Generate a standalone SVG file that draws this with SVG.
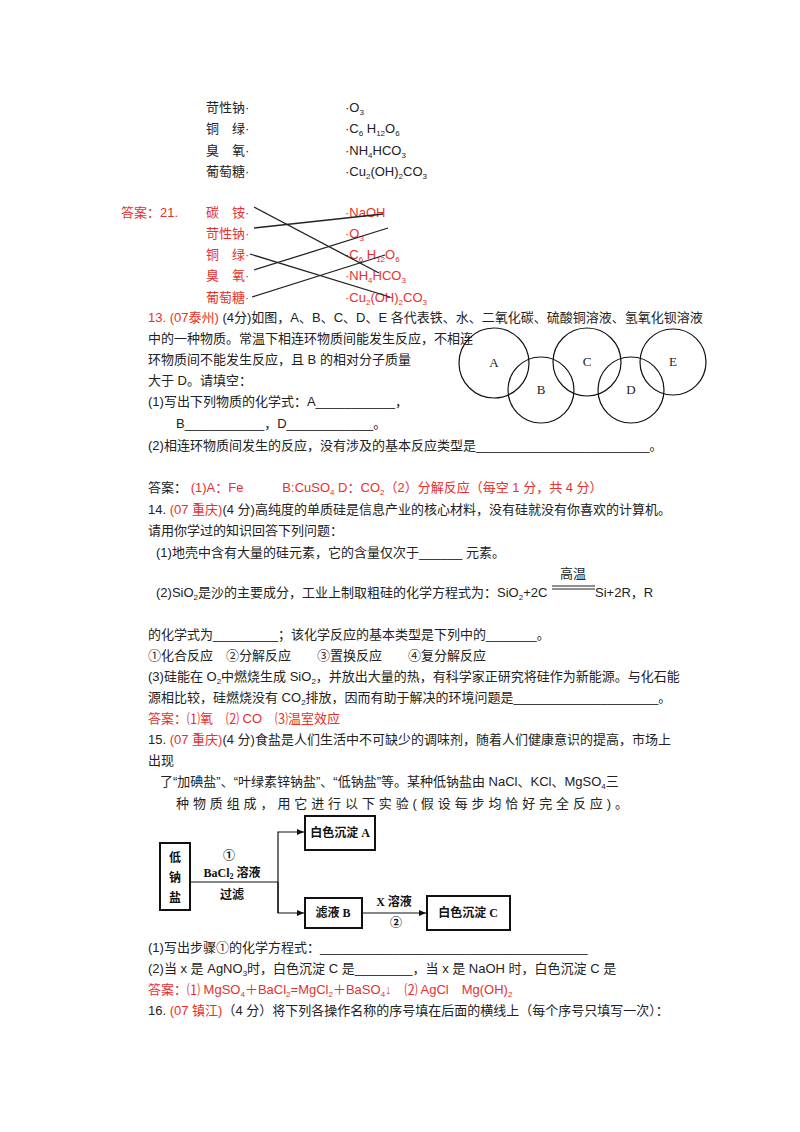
<svg xmlns="http://www.w3.org/2000/svg" width="800" height="1132" viewBox="0 0 800 1132">
<style>
text{font-family:"Liberation Sans","Noto Sans CJK SC",sans-serif;font-size:13px;fill:#222}
.r{fill:#e8302c}
.s{font-family:"Liberation Serif","Noto Sans CJK SC",serif;font-size:12px;fill:#111;font-weight:bold}
.ln{stroke:#222;stroke-width:1.3;fill:none}
.c{stroke:#111;stroke-width:1.2;fill:none}
.b{stroke:#111;stroke-width:2;fill:#fff}
</style>
<defs><marker id="ar" markerWidth="8" markerHeight="8" refX="7" refY="4" orient="auto" markerUnits="userSpaceOnUse"><path d="M0,1 L7,4 L0,7z" fill="#111"/></marker></defs>
<rect width="800" height="1132" fill="#fff"/>
<g id="q12">
<text x="206" y="112">苛性钠·</text><text x="345" y="112">·O<tspan font-size="8" dy="3">3</tspan></text>
<text x="206" y="133">铜　绿·</text><text x="345" y="133">·C<tspan font-size="8" dy="3">6</tspan><tspan dy="-3"> H</tspan><tspan font-size="8" dy="3">12</tspan><tspan dy="-3">O</tspan><tspan font-size="8" dy="3">6</tspan></text>
<text x="206" y="155">臭　氧·</text><text x="345" y="155">·NH<tspan font-size="8" dy="3">4</tspan><tspan dy="-3">HCO</tspan><tspan font-size="8" dy="3">3</tspan></text>
<text x="206" y="176">葡萄糖·</text><text x="345" y="176">·Cu<tspan font-size="8" dy="3">2</tspan><tspan dy="-3">(OH)</tspan><tspan font-size="8" dy="3">2</tspan><tspan dy="-3">CO</tspan><tspan font-size="8" dy="3">3</tspan></text>
<text class="r" x="121" y="217">答案：21.</text>
<text class="r" x="206" y="217">碳　铵·</text><text class="r" x="345" y="217">·NaOH</text>
<text class="r" x="206" y="238">苛性钠·</text><text class="r" x="345" y="238">·O<tspan font-size="8" dy="3">3</tspan></text>
<text class="r" x="206" y="259">铜　绿·</text><text class="r" x="345" y="259">·C<tspan font-size="8" dy="3">6</tspan><tspan dy="-3"> H</tspan><tspan font-size="8" dy="3">12</tspan><tspan dy="-3">O</tspan><tspan font-size="8" dy="3">6</tspan></text>
<text class="r" x="206" y="280">臭　氧·</text><text class="r" x="345" y="280">·NH<tspan font-size="8" dy="3">4</tspan><tspan dy="-3">HCO</tspan><tspan font-size="8" dy="3">3</tspan></text>
<text class="r" x="206" y="302">葡萄糖·</text><text class="r" x="345" y="302">·Cu<tspan font-size="8" dy="3">2</tspan><tspan dy="-3">(OH)</tspan><tspan font-size="8" dy="3">2</tspan><tspan dy="-3">CO</tspan><tspan font-size="8" dy="3">3</tspan></text>
</g>
<g id="connectors">
<line class="ln" x1="254" y1="207" x2="379" y2="273"/>
<line class="ln" x1="254" y1="228" x2="383" y2="214"/>
<line class="ln" x1="250" y1="254" x2="390" y2="297"/>
<line class="ln" x1="254" y1="270" x2="388" y2="228"/>
<line class="ln" x1="252" y1="297" x2="385" y2="255"/>
<polyline class="c" points="190,882 278,882"/>
<polyline class="c" points="278,913 278,832 304,832" marker-end="url(#ar)"/>
<polyline class="c" points="278,882 278,913 304,913" marker-end="url(#ar)"/>
<line class="c" x1="362" y1="913" x2="426" y2="913" marker-end="url(#ar)"/>
<line x1="552" y1="586" x2="595" y2="586" stroke="#222"/>
<line x1="552" y1="589" x2="595" y2="589" stroke="#222"/>
</g>
<g id="circles" fill="none" stroke="#111" stroke-width="1.2">
<circle cx="494" cy="363" r="35"/>
<circle cx="541" cy="390" r="33"/>
<circle cx="587" cy="362" r="34"/>
<circle cx="631" cy="390" r="33"/>
<circle cx="673" cy="362" r="33"/>
<g fill="#111" stroke="none" text-anchor="middle">
<text x="494" y="367" style="font-family:'Liberation Serif',serif">A</text>
<text x="541" y="394" style="font-family:'Liberation Serif',serif">B</text>
<text x="587" y="366" style="font-family:'Liberation Serif',serif">C</text>
<text x="631" y="394" style="font-family:'Liberation Serif',serif">D</text>
<text x="673" y="366" style="font-family:'Liberation Serif',serif">E</text>
</g>
</g>
<g id="q13">
<text x="148" y="322"><tspan class="r">13. (07泰州)</tspan> (4分)如图，A、B、C、D、E 各代表铁、水、二氧化碳、硫酸铜溶液、氢氧化钡溶液</text>
<text x="148" y="343">中的一种物质。常温下相连环物质间能发生反应，不相连</text>
<text x="148" y="364">环物质间不能发生反应，且 B 的相对分子质量</text>
<text x="148" y="385">大于 D。请填空：</text>
<text x="148" y="406">(1)写出下列物质的化学式：A___________，</text>
<text x="176" y="428">B___________，D____________。</text>
<text x="148" y="450">(2)相连环物质间发生的反应，没有涉及的基本反应类型是________________________。</text>
<text x="148" y="492">答案： <tspan class="r">(1)A：Fe　　　B:CuSO</tspan><tspan class="r" font-size="8" dy="3">4</tspan><tspan class="r" dy="-3"> D：CO</tspan><tspan class="r" font-size="8" dy="3">2</tspan><tspan class="r" dy="-3">（2）分解反应（每空 1 分，共 4 分）</tspan></text>
</g>
<g id="q14">
<text x="148" y="514">14. <tspan class="r">(07 重庆)</tspan>(4 分)高纯度的单质硅是信息产业的核心材料，没有硅就没有你喜欢的计算机。</text>
<text x="148" y="535">请用你学过的知识回答下列问题：</text>
<text x="156" y="557">(1)地壳中含有大量的硅元素，它的含量仅次于______ 元素。</text>
<text x="560" y="578">高温</text>
<text x="156" y="597">(2)SiO<tspan font-size="8" dy="3">2</tspan><tspan dy="-3">是沙的主要成分，工业上制取粗硅的化学方程式为：SiO</tspan><tspan font-size="8" dy="3">2</tspan><tspan dy="-3">+2C</tspan></text>
<text x="595" y="597">Si+2R，R</text>
<text x="148" y="639">的化学式为_________；该化学反应的基本类型是下列中的_______。</text>
<text x="148" y="660">①化合反应　②分解反应　　③置换反应　　④复分解反应</text>
<text x="148" y="681">(3)硅能在 O<tspan font-size="8" dy="3">2</tspan><tspan dy="-3">中燃烧生成 SiO</tspan><tspan font-size="8" dy="3">2</tspan><tspan dy="-3">，并放出大量的热，有科学家正研究将硅作为新能源。与化石能</tspan></text>
<text x="148" y="702">源相比较，硅燃烧没有 CO<tspan font-size="8" dy="3">2</tspan><tspan dy="-3">排放，因而有助于解决的环境问题是____________________。</tspan></text>
<text class="r" x="148" y="723">答案：⑴氧　⑵ CO　⑶温室效应</text>
</g>
<g id="q15">
<text x="148" y="744">15. <tspan class="r">(07 重庆)</tspan>(4 分)食盐是人们生活中不可缺少的调味剂，随着人们健康意识的提高，市场上</text>
<text x="148" y="765">出现</text>
<text x="160" y="786">了“加碘盐”、“叶绿素锌钠盐”、“低钠盐”等。某种低钠盐由 NaCl、KCl、MgSO<tspan font-size="8" dy="3">4</tspan><tspan dy="-3">三</tspan></text>
<text x="176" y="808" textLength="452" lengthAdjust="spacing">种物质组成，用它进行以下实验(假设每步均恰好完全反应)。</text>
</g>
<g id="n-low"><rect class="b" x="160" y="843" width="30" height="67"/>
<text class="s" x="175" y="862" text-anchor="middle">低</text><text class="s" x="175" y="882" text-anchor="middle">钠</text><text class="s" x="175" y="902" text-anchor="middle">盐</text></g>
<g id="n-A"><rect class="b" x="305" y="816" width="70" height="34"/><text class="s" x="340" y="837" text-anchor="middle">白色沉淀 A</text></g>
<g id="n-B"><rect class="b" x="305" y="898" width="57" height="30"/><text class="s" x="333" y="917" text-anchor="middle">滤液 B</text></g>
<g id="n-C"><rect class="b" x="427" y="896" width="83" height="34"/><text class="s" x="468" y="917" text-anchor="middle">白色沉淀 C</text></g>
<g id="labels">
<text class="s" x="229" y="860" text-anchor="middle">①</text>
<text class="s" x="232" y="877" text-anchor="middle">BaCl<tspan font-size="8" dy="2">2</tspan><tspan dy="-2"> 溶液</tspan></text>
<text class="s" x="232" y="899" text-anchor="middle">过滤</text>
<text class="s" x="394" y="906" text-anchor="middle">X 溶液</text>
<text class="s" x="396" y="927" text-anchor="middle">②</text>
</g>
<g id="q15b">
<text x="148" y="952">(1)写出步骤①的化学方程式：_____________________________________</text>
<text x="148" y="973">(2)当 x 是 AgNO<tspan font-size="8" dy="3">3</tspan><tspan dy="-3">时，白色沉淀 C 是________，当 x 是 NaOH 时，白色沉淀 C 是</tspan></text>
<text class="r" x="148" y="994">答案：⑴ MgSO<tspan font-size="8" dy="3">4</tspan><tspan dy="-3">＋BaCl</tspan><tspan font-size="8" dy="3">2</tspan><tspan dy="-3">=MgCl</tspan><tspan font-size="8" dy="3">2</tspan><tspan dy="-3">＋BaSO</tspan><tspan font-size="8" dy="3">4</tspan><tspan dy="-3">↓　⑵ AgCl　Mg(OH)</tspan><tspan font-size="8" dy="3">2</tspan></text>
<text x="148" y="1015">16. <tspan class="r">(07 镇江)</tspan>（4 分）将下列各操作名称的序号填在后面的横线上（每个序号只填写一次）：</text>
</g>
</svg>
